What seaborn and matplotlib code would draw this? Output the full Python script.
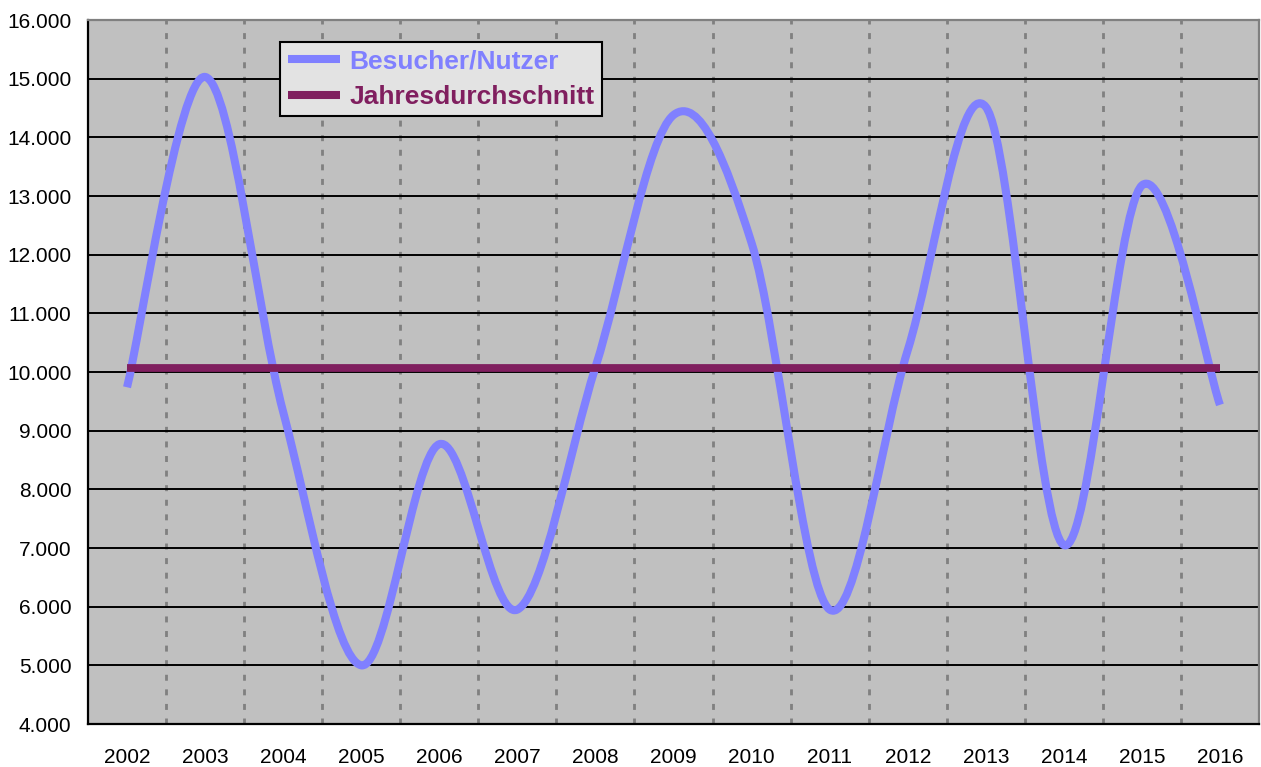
import numpy as np
import matplotlib
matplotlib.use('Agg')
import matplotlib.pyplot as plt
from matplotlib.path import Path
from matplotlib.patches import PathPatch
from matplotlib.lines import Line2D
from matplotlib.ticker import FixedLocator, FuncFormatter
import seaborn as sns

# Daten
jahre = ['2002', '2003', '2004', '2005', '2006', '2007', '2008', '2009',
         '2010', '2011', '2012', '2013', '2014', '2015', '2016']
besucher = [9740, 15030, 9320, 5000, 8770, 5950, 10080, 14380,
            12200, 5950, 10370, 14520, 7050, 13180, 9440]
durchschnitt = 10070
y_ticks = list(range(4000, 16001, 1000))

blau = '#8080FF'
lila = '#801F5F'

sns.set_style('white')
plt.rcParams['font.family'] = ['Liberation Sans', 'DejaVu Sans']
plt.rcParams['lines.scale_dashes'] = False

fig = plt.figure(figsize=(12.61, 7.67), dpi=100)
ax = fig.add_axes([88 / 1261, 1 - 724 / 767, (1259 - 88) / 1261, (724 - 20) / 767])
ax.set_facecolor('#C0C0C0')

x = np.arange(len(jahre))

# Gitterlinien
for v in y_ticks[1:-1]:
    ax.axhline(v, color='black', lw=1.4, zorder=1)
for b in x[:-1] + 0.5:
    ax.axvline(b, color='#808080', lw=2.0, dashes=(4.3, 6.2), zorder=0.9)

# geglättete Linie (Bezier wie in Excel)
pts = np.column_stack([x, besucher]).astype(float)
ext = np.vstack([pts[:1], pts, pts[-1:]])
verts = [pts[0]]
codes = [Path.MOVETO]
for i in range(len(pts) - 1):
    p0, p1, p2, p3 = ext[i], ext[i + 1], ext[i + 2], ext[i + 3]
    verts += [p1 + (p2 - p0) / 6, p2 - (p3 - p1) / 6, p2]
    codes += [Path.CURVE4] * 3
ax.add_patch(PathPatch(Path(verts, codes), fill=False, edgecolor=blau, lw=5.8,
                       capstyle='butt', joinstyle='round', zorder=3))

# Jahresdurchschnitt
sns.lineplot(x=x, y=[durchschnitt] * len(x), color=lila, lw=5.6, ax=ax,
             solid_capstyle='butt', zorder=4, legend=False)

ax.set_xlim(-0.5, len(jahre) - 0.5)
ax.set_ylim(4000, 16000)

# Achsen
ax.set_xticks(x)
ax.set_xticklabels(jahre)
ax.xaxis.set_minor_locator(FixedLocator(np.arange(-0.5, len(jahre), 1)))
ax.tick_params(axis='x', which='major', length=0, pad=17, labelsize=15, labelcolor='black')
ax.tick_params(axis='x', which='minor', length=5, width=1.5, direction='out', color='black')
ax.set_yticks(y_ticks)
ax.yaxis.set_major_formatter(FuncFormatter(lambda v, p: f'{v:,.0f}'.replace(',', '.')))
ax.tick_params(axis='y', length=5, width=1.5, direction='out', color='black', pad=7,
               labelsize=15, labelcolor='black')
ax.set_xlabel('')
ax.set_ylabel('')

for s in ['left', 'bottom']:
    ax.spines[s].set_color('black')
    ax.spines[s].set_linewidth(1.6)
for s in ['top', 'right']:
    ax.spines[s].set_color('#808080')
    ax.spines[s].set_linewidth(1.6)

# Legende
handles = [Line2D([], [], color=blau, lw=5.8, solid_capstyle='butt'),
           Line2D([], [], color=lila, lw=5.8, solid_capstyle='butt')]
leg = ax.legend(handles, ['Besucher/Nutzer', 'Jahresdurchschnitt'], loc='upper left',
                bbox_to_anchor=(0.164, 0.969), borderaxespad=0, frameon=True,
                fancybox=False, facecolor='#E3E3E3', edgecolor='black', framealpha=1,
                prop={'weight': 'bold', 'size': 19}, handlelength=2.0,
                handletextpad=0.35, borderpad=0.29, labelspacing=0.43)
leg.get_frame().set_linewidth(1.5)
for t, c in zip(leg.get_texts(), [blau, lila]):
    t.set_color(c)

fig.savefig('out.png', dpi=100)
